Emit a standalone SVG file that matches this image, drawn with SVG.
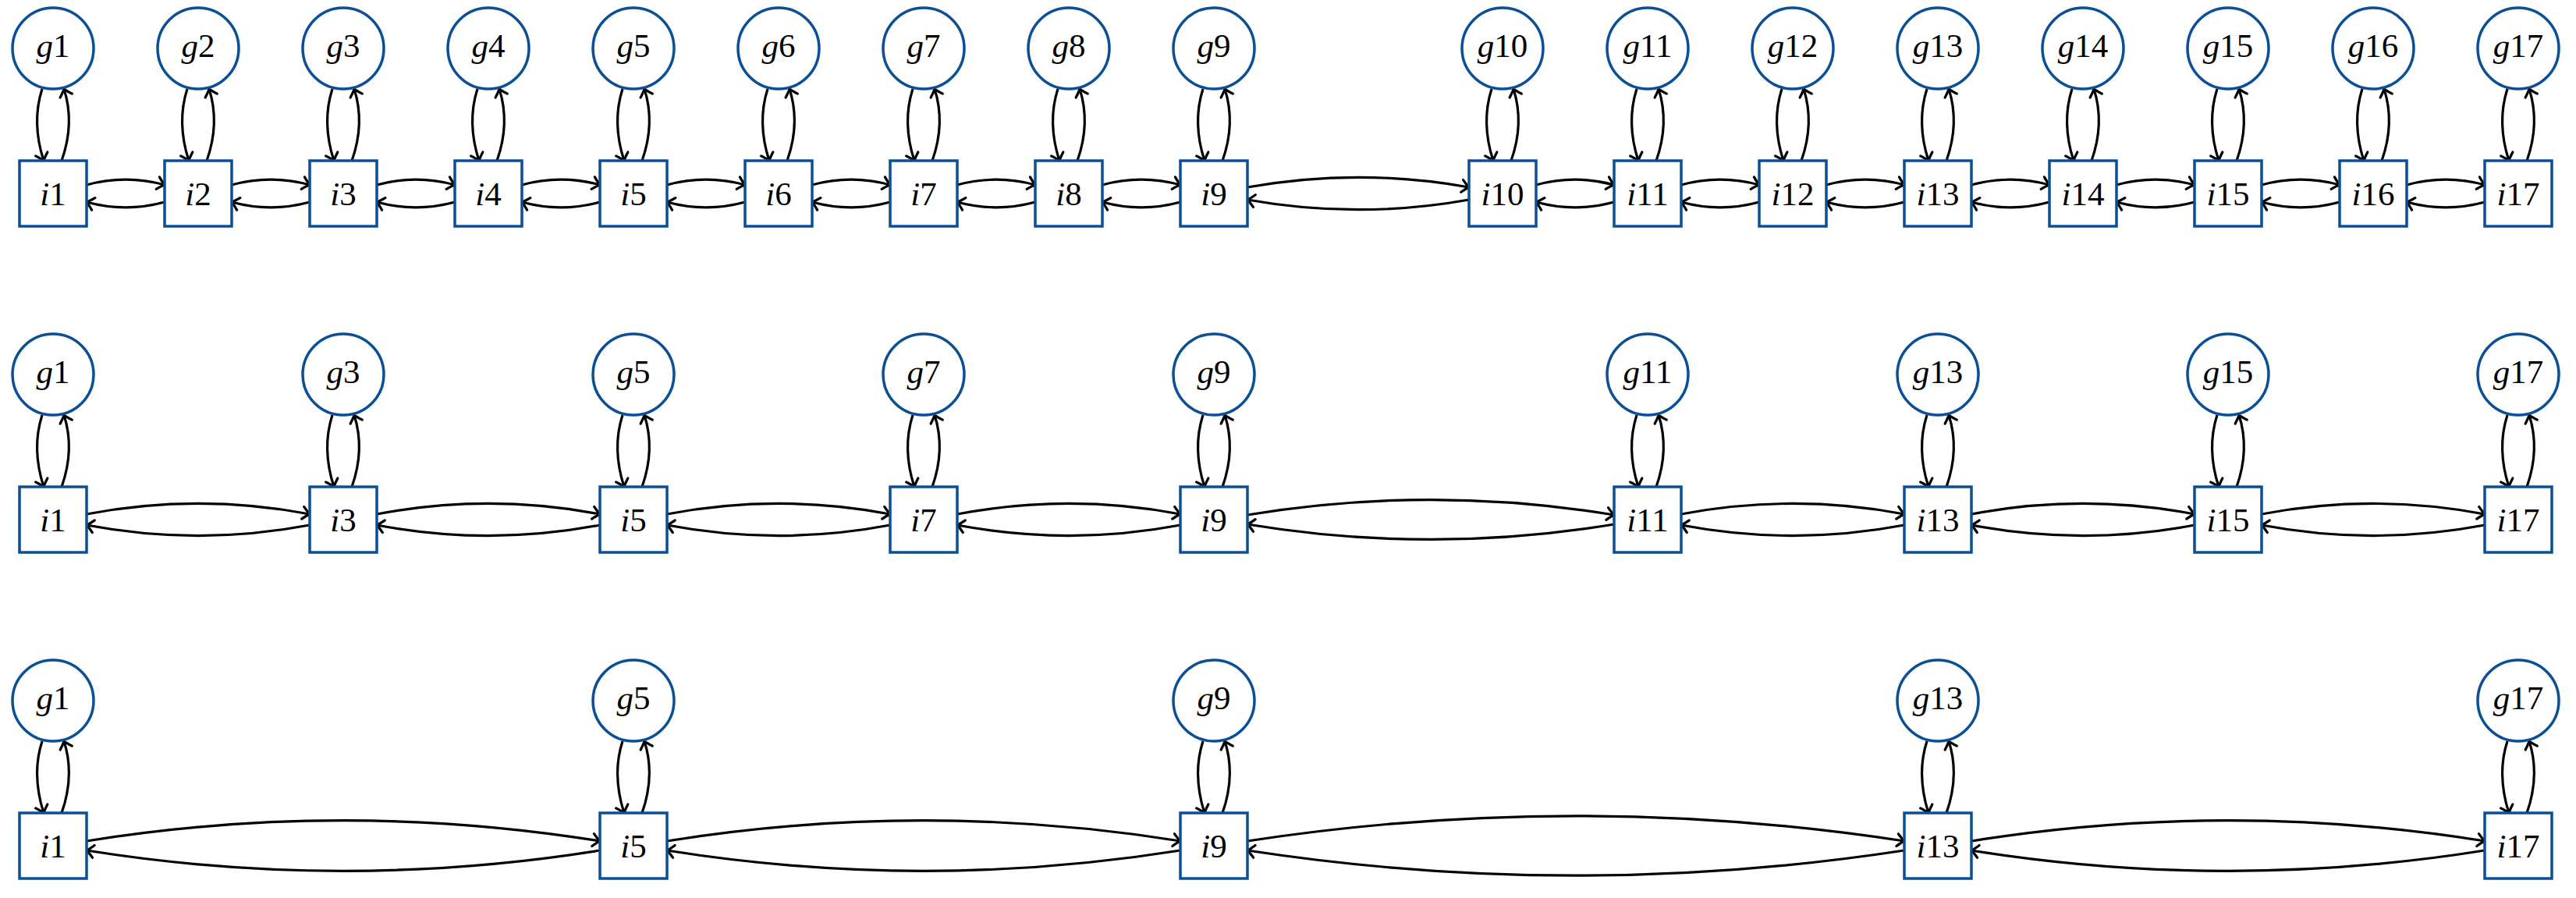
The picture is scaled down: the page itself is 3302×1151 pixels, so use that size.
<svg xmlns="http://www.w3.org/2000/svg" xmlns:xlink="http://www.w3.org/1999/xlink" width="3302" height="1151" viewBox="0 0 3302 1151">
<style>
.n{fill:#fff;stroke:#0b4f96;stroke-width:3.5}
.t{font-family:"Liberation Serif",serif;font-size:43px;text-anchor:middle;fill:#000}
.t tspan.v{font-style:italic}
.e{fill:none;stroke:#000;stroke-width:3.2;marker-end:url(#ah)}
</style>
<defs>
<marker id="ah" markerUnits="userSpaceOnUse" markerWidth="24" markerHeight="24" refX="0" refY="0" viewBox="-12 -12 24 24" orient="auto" overflow="visible">
<path d="M-9,-8 Q-3,-2 0,0 Q-3,2 -9,8" fill="none" stroke="#000" stroke-width="3.2" stroke-linecap="round"/>
</marker>
<g id="v"><path class="e" d="M-14,0 C-24,31 -22,61 -12,92"/><path class="e" d="M11,92 C22,61 24,31 14,0"/></g>
<g id="h100"><path class="e" d="M0,-11 C33,-20 67,-20 100,-11"/><path class="e" d="M100,11 C67,20 33,20 0,11"/></g>
<g id="h284"><path class="e" d="M0,-8 C95,-25 189,-25 284,-8"/><path class="e" d="M284,8 C189,25 95,25 0,8"/></g>
<g id="h286"><path class="e" d="M0,-7 C95,-25 191,-25 286,-7"/><path class="e" d="M286,7 C191,25 95,25 0,7"/></g>
<g id="h470"><path class="e" d="M0,-6 C157,-32 313,-32 470,-6"/><path class="e" d="M470,6 C313,32 157,32 0,6"/></g>
<g id="h658"><path class="e" d="M0,-6 C219,-41 439,-41 658,-6"/><path class="e" d="M658,6 C439,41 219,41 0,6"/></g>
<g id="h842"><path class="e" d="M0,-6 C281,-49 561,-49 842,-6"/><path class="e" d="M842,6 C561,49 281,49 0,6"/></g>
</defs>
<g id="connectors">
<use href="#v" x="68" y="114"/><use href="#v" x="254" y="114"/><use href="#v" x="440" y="114"/><use href="#v" x="626" y="114"/><use href="#v" x="812" y="114"/><use href="#v" x="998" y="114"/><use href="#v" x="1184" y="114"/><use href="#v" x="1370" y="114"/><use href="#v" x="1556" y="114"/><use href="#v" x="1926" y="114"/><use href="#v" x="2112" y="114"/><use href="#v" x="2298" y="114"/><use href="#v" x="2484" y="114"/><use href="#v" x="2670" y="114"/><use href="#v" x="2856" y="114"/><use href="#v" x="3042" y="114"/><use href="#v" x="3228" y="114"/>
<use href="#h100" x="111" y="248"/><use href="#h100" x="297" y="248"/><use href="#h100" x="483" y="248"/><use href="#h100" x="669" y="248"/><use href="#h100" x="855" y="248"/><use href="#h100" x="1041" y="248"/><use href="#h100" x="1227" y="248"/><use href="#h100" x="1413" y="248"/><use href="#h284" x="1599" y="248"/><use href="#h100" x="1969" y="248"/><use href="#h100" x="2155" y="248"/><use href="#h100" x="2341" y="248"/><use href="#h100" x="2527" y="248"/><use href="#h100" x="2713" y="248"/><use href="#h100" x="2899" y="248"/><use href="#h100" x="3085" y="248"/>
<use href="#v" x="68" y="532"/><use href="#v" x="440" y="532"/><use href="#v" x="812" y="532"/><use href="#v" x="1184" y="532"/><use href="#v" x="1556" y="532"/><use href="#v" x="2112" y="532"/><use href="#v" x="2484" y="532"/><use href="#v" x="2856" y="532"/><use href="#v" x="3228" y="532"/>
<use href="#h286" x="111" y="666"/><use href="#h286" x="483" y="666"/><use href="#h286" x="855" y="666"/><use href="#h286" x="1227" y="666"/><use href="#h470" x="1599" y="666"/><use href="#h286" x="2155" y="666"/><use href="#h286" x="2527" y="666"/><use href="#h286" x="2899" y="666"/>
<use href="#v" x="68" y="950"/><use href="#v" x="812" y="950"/><use href="#v" x="1556" y="950"/><use href="#v" x="2484" y="950"/><use href="#v" x="3228" y="950"/>
<use href="#h658" x="111" y="1084"/><use href="#h658" x="855" y="1084"/><use href="#h842" x="1599" y="1084"/><use href="#h658" x="2527" y="1084"/>
</g>
<!-- row 1 -->
<g id="r1g1"><circle class="n" cx="68" cy="62" r="52"/><text class="t" x="68" y="73"><tspan class="v">g</tspan>1</text></g>
<g id="r1g2"><circle class="n" cx="254" cy="62" r="52"/><text class="t" x="254" y="73"><tspan class="v">g</tspan>2</text></g>
<g id="r1g3"><circle class="n" cx="440" cy="62" r="52"/><text class="t" x="440" y="73"><tspan class="v">g</tspan>3</text></g>
<g id="r1g4"><circle class="n" cx="626" cy="62" r="52"/><text class="t" x="626" y="73"><tspan class="v">g</tspan>4</text></g>
<g id="r1g5"><circle class="n" cx="812" cy="62" r="52"/><text class="t" x="812" y="73"><tspan class="v">g</tspan>5</text></g>
<g id="r1g6"><circle class="n" cx="998" cy="62" r="52"/><text class="t" x="998" y="73"><tspan class="v">g</tspan>6</text></g>
<g id="r1g7"><circle class="n" cx="1184" cy="62" r="52"/><text class="t" x="1184" y="73"><tspan class="v">g</tspan>7</text></g>
<g id="r1g8"><circle class="n" cx="1370" cy="62" r="52"/><text class="t" x="1370" y="73"><tspan class="v">g</tspan>8</text></g>
<g id="r1g9"><circle class="n" cx="1556" cy="62" r="52"/><text class="t" x="1556" y="73"><tspan class="v">g</tspan>9</text></g>
<g id="r1g10"><circle class="n" cx="1926" cy="62" r="52"/><text class="t" x="1926" y="73"><tspan class="v">g</tspan>10</text></g>
<g id="r1g11"><circle class="n" cx="2112" cy="62" r="52"/><text class="t" x="2112" y="73"><tspan class="v">g</tspan>11</text></g>
<g id="r1g12"><circle class="n" cx="2298" cy="62" r="52"/><text class="t" x="2298" y="73"><tspan class="v">g</tspan>12</text></g>
<g id="r1g13"><circle class="n" cx="2484" cy="62" r="52"/><text class="t" x="2484" y="73"><tspan class="v">g</tspan>13</text></g>
<g id="r1g14"><circle class="n" cx="2670" cy="62" r="52"/><text class="t" x="2670" y="73"><tspan class="v">g</tspan>14</text></g>
<g id="r1g15"><circle class="n" cx="2856" cy="62" r="52"/><text class="t" x="2856" y="73"><tspan class="v">g</tspan>15</text></g>
<g id="r1g16"><circle class="n" cx="3042" cy="62" r="52"/><text class="t" x="3042" y="73"><tspan class="v">g</tspan>16</text></g>
<g id="r1g17"><circle class="n" cx="3228" cy="62" r="52"/><text class="t" x="3228" y="73"><tspan class="v">g</tspan>17</text></g>
<g id="r1i1"><rect class="n" x="25" y="206" width="86" height="84"/><text class="t" x="68" y="263"><tspan class="v">i</tspan>1</text></g>
<g id="r1i2"><rect class="n" x="211" y="206" width="86" height="84"/><text class="t" x="254" y="263"><tspan class="v">i</tspan>2</text></g>
<g id="r1i3"><rect class="n" x="397" y="206" width="86" height="84"/><text class="t" x="440" y="263"><tspan class="v">i</tspan>3</text></g>
<g id="r1i4"><rect class="n" x="583" y="206" width="86" height="84"/><text class="t" x="626" y="263"><tspan class="v">i</tspan>4</text></g>
<g id="r1i5"><rect class="n" x="769" y="206" width="86" height="84"/><text class="t" x="812" y="263"><tspan class="v">i</tspan>5</text></g>
<g id="r1i6"><rect class="n" x="955" y="206" width="86" height="84"/><text class="t" x="998" y="263"><tspan class="v">i</tspan>6</text></g>
<g id="r1i7"><rect class="n" x="1141" y="206" width="86" height="84"/><text class="t" x="1184" y="263"><tspan class="v">i</tspan>7</text></g>
<g id="r1i8"><rect class="n" x="1327" y="206" width="86" height="84"/><text class="t" x="1370" y="263"><tspan class="v">i</tspan>8</text></g>
<g id="r1i9"><rect class="n" x="1513" y="206" width="86" height="84"/><text class="t" x="1556" y="263"><tspan class="v">i</tspan>9</text></g>
<g id="r1i10"><rect class="n" x="1883" y="206" width="86" height="84"/><text class="t" x="1926" y="263"><tspan class="v">i</tspan>10</text></g>
<g id="r1i11"><rect class="n" x="2069" y="206" width="86" height="84"/><text class="t" x="2112" y="263"><tspan class="v">i</tspan>11</text></g>
<g id="r1i12"><rect class="n" x="2255" y="206" width="86" height="84"/><text class="t" x="2298" y="263"><tspan class="v">i</tspan>12</text></g>
<g id="r1i13"><rect class="n" x="2441" y="206" width="86" height="84"/><text class="t" x="2484" y="263"><tspan class="v">i</tspan>13</text></g>
<g id="r1i14"><rect class="n" x="2627" y="206" width="86" height="84"/><text class="t" x="2670" y="263"><tspan class="v">i</tspan>14</text></g>
<g id="r1i15"><rect class="n" x="2813" y="206" width="86" height="84"/><text class="t" x="2856" y="263"><tspan class="v">i</tspan>15</text></g>
<g id="r1i16"><rect class="n" x="2999" y="206" width="86" height="84"/><text class="t" x="3042" y="263"><tspan class="v">i</tspan>16</text></g>
<g id="r1i17"><rect class="n" x="3185" y="206" width="86" height="84"/><text class="t" x="3228" y="263"><tspan class="v">i</tspan>17</text></g>
<!-- row 2 -->
<g id="r2g1"><circle class="n" cx="68" cy="480" r="52"/><text class="t" x="68" y="491"><tspan class="v">g</tspan>1</text></g>
<g id="r2g3"><circle class="n" cx="440" cy="480" r="52"/><text class="t" x="440" y="491"><tspan class="v">g</tspan>3</text></g>
<g id="r2g5"><circle class="n" cx="812" cy="480" r="52"/><text class="t" x="812" y="491"><tspan class="v">g</tspan>5</text></g>
<g id="r2g7"><circle class="n" cx="1184" cy="480" r="52"/><text class="t" x="1184" y="491"><tspan class="v">g</tspan>7</text></g>
<g id="r2g9"><circle class="n" cx="1556" cy="480" r="52"/><text class="t" x="1556" y="491"><tspan class="v">g</tspan>9</text></g>
<g id="r2g11"><circle class="n" cx="2112" cy="480" r="52"/><text class="t" x="2112" y="491"><tspan class="v">g</tspan>11</text></g>
<g id="r2g13"><circle class="n" cx="2484" cy="480" r="52"/><text class="t" x="2484" y="491"><tspan class="v">g</tspan>13</text></g>
<g id="r2g15"><circle class="n" cx="2856" cy="480" r="52"/><text class="t" x="2856" y="491"><tspan class="v">g</tspan>15</text></g>
<g id="r2g17"><circle class="n" cx="3228" cy="480" r="52"/><text class="t" x="3228" y="491"><tspan class="v">g</tspan>17</text></g>
<g id="r2i1"><rect class="n" x="25" y="624" width="86" height="84"/><text class="t" x="68" y="681"><tspan class="v">i</tspan>1</text></g>
<g id="r2i3"><rect class="n" x="397" y="624" width="86" height="84"/><text class="t" x="440" y="681"><tspan class="v">i</tspan>3</text></g>
<g id="r2i5"><rect class="n" x="769" y="624" width="86" height="84"/><text class="t" x="812" y="681"><tspan class="v">i</tspan>5</text></g>
<g id="r2i7"><rect class="n" x="1141" y="624" width="86" height="84"/><text class="t" x="1184" y="681"><tspan class="v">i</tspan>7</text></g>
<g id="r2i9"><rect class="n" x="1513" y="624" width="86" height="84"/><text class="t" x="1556" y="681"><tspan class="v">i</tspan>9</text></g>
<g id="r2i11"><rect class="n" x="2069" y="624" width="86" height="84"/><text class="t" x="2112" y="681"><tspan class="v">i</tspan>11</text></g>
<g id="r2i13"><rect class="n" x="2441" y="624" width="86" height="84"/><text class="t" x="2484" y="681"><tspan class="v">i</tspan>13</text></g>
<g id="r2i15"><rect class="n" x="2813" y="624" width="86" height="84"/><text class="t" x="2856" y="681"><tspan class="v">i</tspan>15</text></g>
<g id="r2i17"><rect class="n" x="3185" y="624" width="86" height="84"/><text class="t" x="3228" y="681"><tspan class="v">i</tspan>17</text></g>
<!-- row 3 -->
<g id="r3g1"><circle class="n" cx="68" cy="898" r="52"/><text class="t" x="68" y="909"><tspan class="v">g</tspan>1</text></g>
<g id="r3g5"><circle class="n" cx="812" cy="898" r="52"/><text class="t" x="812" y="909"><tspan class="v">g</tspan>5</text></g>
<g id="r3g9"><circle class="n" cx="1556" cy="898" r="52"/><text class="t" x="1556" y="909"><tspan class="v">g</tspan>9</text></g>
<g id="r3g13"><circle class="n" cx="2484" cy="898" r="52"/><text class="t" x="2484" y="909"><tspan class="v">g</tspan>13</text></g>
<g id="r3g17"><circle class="n" cx="3228" cy="898" r="52"/><text class="t" x="3228" y="909"><tspan class="v">g</tspan>17</text></g>
<g id="r3i1"><rect class="n" x="25" y="1042" width="86" height="84"/><text class="t" x="68" y="1099"><tspan class="v">i</tspan>1</text></g>
<g id="r3i5"><rect class="n" x="769" y="1042" width="86" height="84"/><text class="t" x="812" y="1099"><tspan class="v">i</tspan>5</text></g>
<g id="r3i9"><rect class="n" x="1513" y="1042" width="86" height="84"/><text class="t" x="1556" y="1099"><tspan class="v">i</tspan>9</text></g>
<g id="r3i13"><rect class="n" x="2441" y="1042" width="86" height="84"/><text class="t" x="2484" y="1099"><tspan class="v">i</tspan>13</text></g>
<g id="r3i17"><rect class="n" x="3185" y="1042" width="86" height="84"/><text class="t" x="3228" y="1099"><tspan class="v">i</tspan>17</text></g>
</svg>
